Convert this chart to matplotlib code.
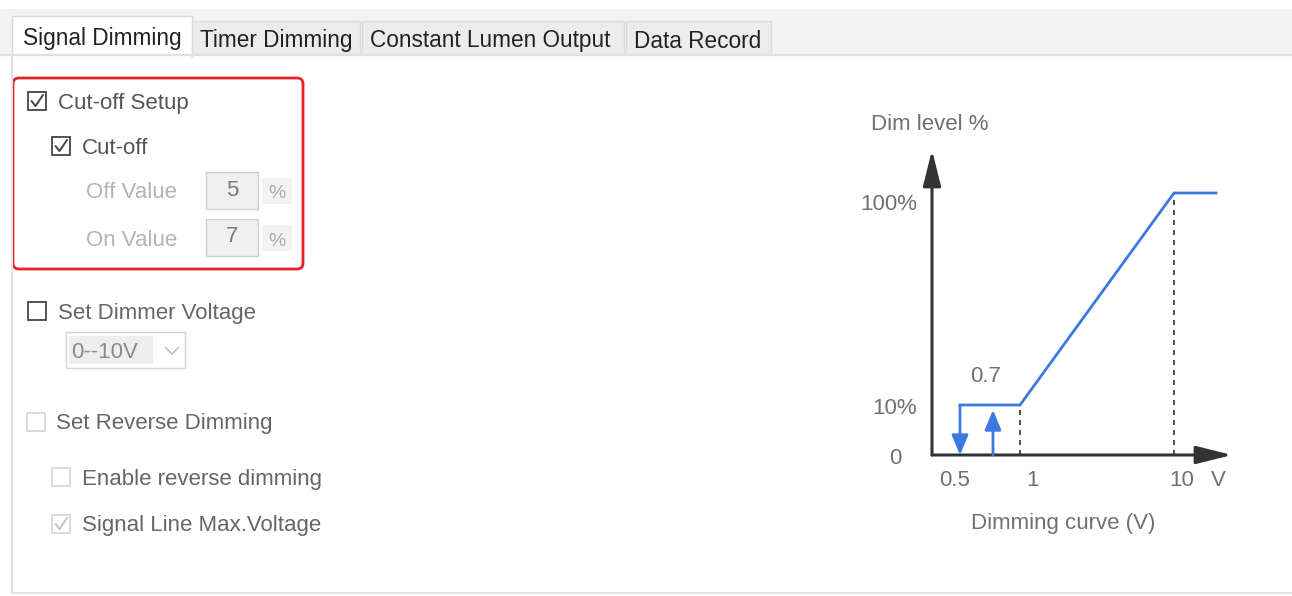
import numpy as np
import matplotlib
matplotlib.use("Agg")
import matplotlib.pyplot as plt
from matplotlib.patches import Rectangle, FancyBboxPatch

plt.rcParams['font.family'] = ['Liberation Sans', 'DejaVu Sans']

# ---- data -------------------------------------------------------------
tab_names = ["Signal Dimming", "Timer Dimming", "Constant Lumen Output", "Data Record"]
off_value = 5
on_value = 7
voltage_range = "0--10V"

# dimming curve (V -> dim level %)
curve_v = [0.5, 1, 10, 11.45]
curve_lvl = [10, 10, 100, 100]
cutoff_off_v = 0.5     # drops to 0 here
cutoff_on_v = 0.7      # switches back on here
cutoff_lvl = 10
dash_v = [1, 10]
dash_lvl = [10, 100]
xtick_v = [0.5, 1, 10]
xtick_lab = ["0.5", "1", "10"]
ytick_lvl = [0, 10, 100]
ytick_lab = ["0", "10%", "100%"]

# schematic (non linear) axis knots: value -> pixel offset from origin
x_knots_v = [0, 0.5, 0.7, 1, 10, 12]
x_knots_px = [0, 28, 61, 88, 242, 300]
y_knots_v = [0, 10, 100, 120]
y_knots_px = [0, 50, 262, 305]

W, H = 1292, 596
fig = plt.figure(figsize=(W / 100, H / 100), dpi=100)
fig.patch.set_facecolor("white")

ui = fig.add_axes([0, 0, 1, 1])
ui.set_xlim(0, W)
ui.set_ylim(H, 0)
ui.axis("off")

FS = 16
BLUE = "#3b78e0"
DARK = "#333333"
DY = 2  # text baseline nudge (px, downwards)

# tab strip
ui.add_patch(Rectangle((0, 9), W, 45, facecolor="#f3f3f3", edgecolor="none"))
ui.plot([0, W], [54.5, 54.5], color="#e0e0e0", lw=1.6)
tab_x = [(12, 192), (192, 360), (362, 624), (626, 771)]
for i, (name, (x0, x1)) in enumerate(zip(tab_names, tab_x)):
    if i == 0:
        ui.add_patch(Rectangle((x0, 16), x1 - x0, 40, facecolor="white",
                               edgecolor="#d8d8d8", lw=1))
        ui.add_patch(Rectangle((x0 + 1, 50), x1 - x0 - 2, 8, facecolor="white",
                               edgecolor="none"))
        ui.text(x0 + 11, 36 + DY, name, fontsize=FS + 0.3, color="#222222", va="center")
    else:
        ui.add_patch(Rectangle((x0, 21), x1 - x0, 33, facecolor="#ececec",
                               edgecolor="#dcdcdc", lw=1))
        ui.text(x0 + 8, 39 + DY, name, fontsize=FS + 0.3, color="#222222", va="center")

# panel border
ui.plot([12, 12], [56, 593], color="#e2e2e2", lw=1.5)
ui.plot([12, W], [593, 593], color="#e2e2e2", lw=1.5)


def checkbox(cx, cy, checked, edge, tick):
    ui.add_patch(Rectangle((cx - 9, cy - 9), 18, 18, facecolor="white",
                           edgecolor=edge, lw=1.3))
    if checked:
        ui.plot([cx - 5.5, cx - 1.5, cx + 6], [cy, cy + 5, cy - 6],
                color=tick, lw=1.4, solid_capstyle="round")


# red highlight box
ui.add_patch(FancyBboxPatch((13, 78), 290, 191,
                            boxstyle="round,pad=0,rounding_size=6",
                            facecolor="none", edgecolor="#e82222", lw=2))

checkbox(37, 101, True, "#444444", "#444444")
ui.text(58, 101 + DY, "Cut-off Setup", fontsize=FS, color="#555555", va="center")
checkbox(61, 146, True, "#444444", "#444444")
ui.text(82, 146 + DY, "Cut-off", fontsize=FS, color="#555555", va="center")

for label, val, yc in [("Off Value", off_value, 191), ("On Value", on_value, 238)]:
    ui.text(86, yc + DY, label, fontsize=FS, color="#b4b4b4", va="center")
    ui.add_patch(Rectangle((206, yc - 19), 52, 37, facecolor="#f0f0f0",
                           edgecolor="#cfcfcf", lw=1))
    ui.text(232, yc - 3 + DY, str(val), fontsize=FS, color="#777777",
            ha="center", va="center")
    ui.add_patch(Rectangle((262, yc - 13), 30, 26, facecolor="#f2f2f2",
                           edgecolor="none"))
    ui.text(277, yc + 1 + DY, "%", fontsize=FS - 2, color="#aaaaaa",
            ha="center", va="center")

checkbox(37, 311, False, "#444444", "#444444")
ui.text(58, 311 + DY, "Set Dimmer Voltage", fontsize=FS, color="#666666", va="center")
ui.add_patch(Rectangle((66, 332), 119, 36, facecolor="white",
                       edgecolor="#d5d5d5", lw=1))
ui.add_patch(Rectangle((69, 336), 84, 28, facecolor="#eeeeee", edgecolor="none"))
ui.text(71, 350 + DY, voltage_range, fontsize=FS, color="#8a8a8a", va="center")
ui.plot([166, 172, 178], [348, 354, 348], color="#b5b5b5", lw=1)

checkbox(36, 422, False, "#d8d8d8", "#d8d8d8")
ui.text(56, 422 + DY, "Set Reverse Dimming", fontsize=FS, color="#666666", va="center")
checkbox(61, 477, False, "#d8d8d8", "#d8d8d8")
ui.text(82, 477 + DY, "Enable reverse dimming", fontsize=FS, color="#666666", va="center")
checkbox(61, 524, True, "#d8d8d8", "#c4c4c4")
ui.text(82, 524 + DY, "Signal Line Max.Voltage", fontsize=FS, color="#666666", va="center")

# ---- dimming curve chart ----------------------------------------------
ox, oy = 932, 455
ax = fig.add_axes([ox / W, (H - oy) / H, 300 / W, 305 / H])
ax.set_xscale("function", functions=(lambda v: np.interp(v, x_knots_v, x_knots_px),
                                     lambda p: np.interp(p, x_knots_px, x_knots_v)))
ax.set_yscale("function", functions=(lambda v: np.interp(v, y_knots_v, y_knots_px),
                                     lambda p: np.interp(p, y_knots_px, y_knots_v)))
ax.set_xlim(0, x_knots_v[-1])
ax.set_ylim(0, y_knots_v[-1])
ax.axis("off")

axis_arrow = dict(arrowstyle="-|>,head_length=2.2,head_width=0.55", lw=2.2,
                  color=DARK, shrinkA=0, shrinkB=0)
ax.annotate("", xy=(x_knots_v[-1], 0), xytext=(0, 0), arrowprops=axis_arrow,
            annotation_clip=False)
ax.annotate("", xy=(0, y_knots_v[-1]), xytext=(0, 0), arrowprops=axis_arrow,
            annotation_clip=False)

ax.vlines(dash_v, 0, dash_lvl, color=DARK, lw=1.2, linestyles=(0, (3, 3)))
ax.plot(curve_v, curve_lvl, color=BLUE, lw=2, clip_on=False)

blue_arrow = dict(arrowstyle="-|>,head_length=1.2,head_width=0.5", lw=2,
                  color=BLUE, shrinkA=0, shrinkB=0)
ax.annotate("", xy=(cutoff_off_v, 0), xytext=(cutoff_off_v, cutoff_lvl),
            arrowprops=blue_arrow)
ax.annotate("", xy=(cutoff_on_v, cutoff_lvl - 1), xytext=(cutoff_on_v, 0),
            arrowprops=blue_arrow)

TCOL = "#707070"
xoffs = [-5, 12, 8]
for v, lab, dx in zip(xtick_v, xtick_lab, xoffs):
    ax.annotate(lab, xy=(v, 0), xytext=(dx, -24 - DY), textcoords="offset pixels",
                ha="center", va="center", fontsize=FS, color=TCOL)
ax.annotate("V", xy=(10, 0), xytext=(44, -24 - DY), textcoords="offset pixels",
            ha="center", va="center", fontsize=FS, color=TCOL)

yoffs = [(-37, 0, "center"), (-15, 0, "right"), (-15, -9, "right")]
for lvl, lab, (dx, dy, ha) in zip(ytick_lvl, ytick_lab, yoffs):
    ax.annotate(lab, xy=(0, lvl), xytext=(dx, dy - DY - 1), textcoords="offset pixels",
                ha=ha, va="center", fontsize=FS, color=TCOL)

ax.annotate(f"{cutoff_on_v}", xy=(cutoff_on_v, cutoff_lvl), xytext=(-7, 31 - DY),
            textcoords="offset pixels", ha="center", va="center",
            fontsize=FS, color=TCOL)
ax.annotate("Dim level %", xy=(0, y_knots_v[-1]), xytext=(-2, 29 - DY - 1),
            textcoords="offset pixels", ha="center", va="center",
            fontsize=FS, color=TCOL, annotation_clip=False)
ax.text(131 / 300, -69 / 305, "Dimming curve (V)", transform=ax.transAxes,
        ha="center", va="center", fontsize=FS, color=TCOL)

fig.savefig("out.png", dpi=100, facecolor="white")
